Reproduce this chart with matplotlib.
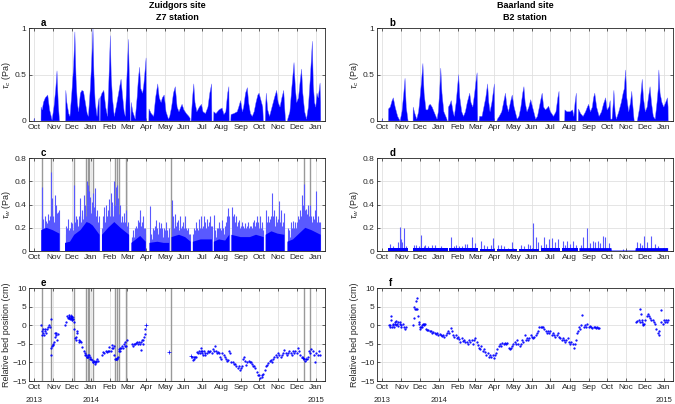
import numpy as np
import matplotlib
matplotlib.use('Agg')
import matplotlib.pyplot as plt

plt.rcParams['font.family'] = ['Liberation Sans', 'DejaVu Sans']
plt.rcParams['mathtext.fontset'] = 'custom'
plt.rcParams['mathtext.it'] = 'Liberation Sans:italic'
plt.rcParams['mathtext.rm'] = 'Liberation Sans'

nan = np.nan
# x in days since 1 Oct 2013
month_lbl = ['Oct', 'Nov', 'Dec', 'Jan', 'Feb', 'Mar', 'Apr', 'May', 'Jun',
             'Jul', 'Aug', 'Sep', 'Oct', 'Noc', 'Dec', 'Jan']
year_lbl = ['2013', '2014', '2015']
year_pos = [0, 3, 15]          # index in month ticks
titles = ['Zuidgors site\nZ7 station', 'Baarland site\nB2 station']

# ---- a: tau_c Zuidgors (envelope, day/value pairs, nan = gap)
tcz = [(-0.5, 0), (0, 0.03), (0.5, 0), (5, nan),
       (11, 0), (11.2, 0.15), (13, 0.12), (15, 0.2), (18, 0.25), (22, 0.28), (25, 0.12), (29, 0.01),
       (32, 0.15), (35, 0.35), (37, 0.54), (39, 0.2), (41, 0), (42, nan),
       (51, 0), (51.3, 0.33), (53, 0.2), (56, 0.08), (58, 0.05), (61, 0.3), (64, 0.6), (66, 0.96),
       (68, 0.45), (70, 0.2), (72, 0.1), (75, 0.3), (77.5, 0.33), (80, 0.32), (83, 0.2), (86, 0.08),
       (88, 0.05), (91, 0.35), (93, 0.6), (95.4, 1.0), (97, 0.5), (99, 0.2), (102, 0.05), (104, 0.2),
       (105.5, 0.25), (106, 0), (106.5, nan),
       (107, 0), (107.5, 0.25), (110, 0.3), (113, 0.33), (116, 0.15), (119, 0.05), (121, 0.4),
       (123.6, 0.92), (125, 0.5), (127, 0.25), (130, 0.05), (133, 0.15), (137, 0.3), (139, 0.38),
       (141, 0.45), (143, 0.3), (146, 0.1), (148, 0.05), (150, 0.4), (153, 0.88), (155, 0.3),
       (156, 0), (156.5, nan),
       (157, 0), (157.5, 0.2), (160, 0.1), (164, 0.02), (167, 0.25), (169, 0.45), (171, 0.58),
       (173, 0.35), (176, 0.3), (178, 0.4), (180, 0.55), (181.6, 0.68), (182, 0), (182.5, nan),
       (186, 0), (186.3, 0.13), (190, 0.08), (194, 0.05), (197, 0.25), (200.5, 0.4), (203, 0.25),
       (206, 0.2), (208, 0.25), (211, 0.28), (214, 0.1), (218, 0.02), (220, 0.05), (223, 0.15),
       (226, 0.3), (229, 0.37), (232, 0.15), (235, 0.1), (238, 0.15), (240, 0.18), (243, 0.12),
       (247, 0.08), (251, 0.05), (253, 0.03), (254, nan),
       (254.5, 0), (255, 0.05), (257, 0.25), (259, 0.4), (261, 0.2), (264, 0.1), (268, 0.15),
       (271.5, 0.18), (274, 0.1), (278, 0.08), (282, 0.15), (285, 0.3), (288, 0.4), (288.5, 0), (289, nan),
       (291, 0), (291.5, 0.1), (295, 0.08), (300, 0.12), (305, 0.14), (308, 0.07), (311, 0.1),
       (314, 0.3), (316, 0.37), (316.5, 0), (317, nan),
       (319, 0), (319.5, 0.07), (324, 0.08), (329.5, 0.1), (332, 0.15), (335, 0.22), (338, 0.1),
       (340, 0.15), (343, 0.3), (346, 0.36), (348, 0.2), (351, 0.08), (354, 0.05), (357, 0.1),
       (360, 0.2), (363, 0.28), (365, 0.3), (367, 0.25), (369, 0.2), (371, 0.15), (372, 0), (372.5, nan),
       (375, 0), (375.5, 0.15), (376.7, 0.3), (379, 0.12), (382, 0.05), (386, 0.15), (390, 0.25),
       (393.5, 0.33), (396, 0.2), (399, 0.15), (402, 0.25), (405, 0.33), (407, 0.1), (408, 0), (408.5, nan),
       (411, 0), (411.5, 0.02), (415, 0.1), (418, 0.35), (420, 0.5), (421.7, 0.63), (424, 0.35),
       (426, 0.2), (429, 0.25), (432, 0.45), (434, 0.56), (436, 0.3), (439, 0.1), (442, 0.02),
       (445, 0.15), (448, 0.45), (451.5, 0.86), (453, 0.4), (455, 0.2), (457, 0.15), (459, 0.3),
       (461, 0.25), (464, 0.41), (465, 0.2), (465.2, 0)]

# ---- b: tau_c Baarland
tcb = [(-0.5, 0), (0, 0.02), (0.5, 0), (5, nan),
       (10, 0), (10.2, 0.13), (13, 0.15), (16, 0.22), (18, 0.25), (21, 0.15), (25, 0.05), (29, 0.0),
       (32, 0.1), (35, 0.3), (37, 0.46), (39, 0.15), (42, 0), (42.5, nan),
       (50, 0), (50.2, 0.15), (53, 0.08), (56, 0.02), (59, 0.1), (62, 0.3), (64, 0.45), (66, 0.62),
       (68, 0.3), (71, 0.12), (74, 0.12), (76, 0.17), (78, 0.18), (81, 0.15), (84, 0.1), (89, 0.02),
       (91, 0.1), (93, 0.3), (95, 0.57), (97, 0.3), (100, 0.1), (105, 0.02), (105.5, 0), (106, nan),
       (107, 0), (107.5, 0.15), (110, 0.18), (112, 0.22), (115, 0.1), (117, 0.05), (120, 0.2),
       (122, 0.35), (124, 0.5), (126, 0.25), (129, 0.1), (132, 0.05), (135, 0.1), (138, 0.2),
       (140, 0.25), (142, 0.3), (144, 0.2), (147, 0.15), (150, 0.3), (152, 0.42), (154, 0.52),
       (155, 0), (155.5, nan),
       (157, 0), (158, 0.05), (162, 0.05), (165, 0.15), (168, 0.25), (171, 0.4), (173, 0.2),
       (175, 0.1), (178, 0.2), (180, 0.3), (182, 0.4), (182.5, 0), (183, nan),
       (186, 0), (187, 0.02), (190, 0.05), (194, 0.1), (197, 0.2), (200, 0.3), (202, 0.18),
       (205, 0.1), (208, 0.2), (211, 0.28), (214, 0.15), (219, 0.02), (222, 0.05), (225, 0.15),
       (228, 0.3), (230, 0.37), (232, 0.2), (235, 0.1), (238, 0.15), (241, 0.23), (244, 0.15),
       (249, 0.02), (252, 0.05), (255, 0.15), (258, 0.25), (259.6, 0.3), (262, 0.15), (265, 0.12),
       (268, 0.14), (270, 0.16), (273, 0.1), (278, 0.05), (282, 0.1), (285, 0.25), (287, 0.32),
       (287.5, 0), (288, nan),
       (296, 0), (296.5, 0.12), (300, 0.1), (305, 0.1), (309, 0.12), (311, 0.05), (313, 0.2),
       (315, 0.3), (315.5, 0), (316, nan),
       (318, 0), (318.5, 0.13), (322, 0.08), (326, 0.05), (330, 0.1), (333, 0.15), (335, 0.18),
       (338, 0.1), (341, 0.15), (343, 0.25), (345, 0.3), (348, 0.15), (352, 0.05), (356, 0.1),
       (359, 0.18), (362.6, 0.25), (365, 0.12), (368, 0.15), (370, 0.22), (371, 0.02), (373, 0.02),
       (375, 0.2), (376, 0.33), (378, 0.1), (380, 0.02), (384, 0.1), (388, 0.2), (391, 0.3),
       (393, 0.35), (395, 0.55), (397, 0.25), (400, 0.1), (403, 0.2), (405, 0.32), (407, 0.15),
       (409, 0), (409.5, nan),
       (414, 0), (414.5, 0.02), (418, 0.15), (420, 0.3), (422, 0.45), (424, 0.25), (427, 0.1),
       (430, 0.15), (432, 0.25), (434.7, 0.37), (437, 0.2), (440, 0.05), (443, 0.02), (446, 0.2),
       (448, 0.35), (449, 0.55), (451, 0.3), (454, 0.2), (457, 0.15), (460, 0.2), (463, 0.25),
       (464, 0.15), (464.2, 0)]

# ---- c: tau_w Zuidgors, dense base level and single spikes
twz_base = [(11.4, 0.18), (20, 0.2), (30, 0.18), (41, 0.15), (41.5, nan),
            (50, 0.07), (58, 0.08), (65, 0.14), (75, 0.18), (85, 0.25), (90, 0.24), (95, 0.22), (106, 0.14), (106.5, nan),
            (110, 0.14), (120, 0.2), (130, 0.25), (140, 0.2), (154, 0.14), (154.5, nan),
            (157.7, 0.07), (165, 0.1), (172, 0.13), (181, 0.08), (181.5, nan),
            (187, 0.07), (200, 0.08), (210, 0.07), (219, 0.07), (219.5, nan),
            (222.8, 0.12), (235, 0.14), (245, 0.12), (254, 0.08), (254.7, nan),
            (257.5, 0.08), (270, 0.1), (280, 0.1), (288.5, 0.1), (289, nan),
            (291.6, 0.08), (300, 0.1), (310, 0.09), (316.5, 0.14), (317, nan),
            (320, 0.14), (335, 0.12), (350, 0.12), (360, 0.14), (372.5, 0.12), (373, nan),
            (375.6, 0.14), (385, 0.17), (395, 0.15), (406, 0.14), (406.5, nan),
            (411, 0.08), (420, 0.1), (430, 0.15), (440, 0.2), (450, 0.18), (465, 0.14)]
twz_spk = [(12, 0.55), (13, 0.3), (14, 0.22), (15, 0.28), (16, 0.2), (17, 0.3), (18, 0.25), (19, 0.26),
           (20, 0.2), (21, 0.24), (22, 0.32), (23, 0.22), (24, 0.27), (25, 0.2), (26, 0.3), (27.6, 0.68),
           (28.5, 0.35), (29, 0.46), (30, 0.28), (31, 0.3), (32, 0.25), (33, 0.48), (34, 0.3), (35, 0.4),
           (36, 0.26), (36.5, 0.33), (37.5, 0.3), (38, 0.34), (39, 0.25), (40, 0.35), (41, 0.2),
           (51, 0.22), (52, 0.15), (53, 0.2), (54, 0.18), (55, 0.28), (56, 0.14), (57, 0.18), (58, 0.2),
           (59, 0.15), (60, 0.25), (61, 0.2), (62, 0.24), (63, 0.18), (64, 0.3), (65, 0.57), (66, 0.25),
           (67, 0.22), (68, 0.3), (69, 0.2), (70, 0.28), (71, 0.22), (72, 0.3), (73, 0.25), (74, 0.46),
           (75, 0.3), (76, 0.25), (77, 0.35), (78, 0.3), (79, 0.28), (80, 0.48), (81, 0.32), (82, 0.4),
           (83, 0.35), (84, 0.3), (85, 0.6), (86, 0.4), (87, 0.57), (88, 0.38), (89, 0.52), (90, 0.35),
           (91, 0.47), (92, 0.33), (93, 0.42), (94, 0.35), (95, 0.5), (96, 0.3), (97, 0.38), (98, 0.33),
           (99, 0.54), (100, 0.3), (101, 0.28), (102, 0.35), (103, 0.25), (104, 0.22), (105, 0.3),
           (110.5, 0.2), (111, 0.25), (112, 0.3), (113, 0.22), (114, 0.38), (115, 0.25), (116, 0.4),
           (117, 0.28), (118, 0.3), (119, 0.35), (120, 0.3), (121, 0.35), (122, 0.45), (123, 0.3),
           (124, 0.38), (125, 0.5), (126, 0.35), (127, 0.42), (128, 0.3), (129, 0.38), (130, 0.6),
           (131, 0.4), (132, 0.35), (133, 0.55), (134, 0.57), (135, 0.35), (136, 0.46), (137, 0.3),
           (138, 0.32), (139, 0.4), (140, 0.28), (141, 0.25), (142, 0.3), (143, 0.22), (144, 0.25),
           (145, 0.2), (146, 0.33), (147, 0.22), (148, 0.25), (149, 0.35), (150, 0.2), (151, 0.22),
           (152, 0.25), (153, 0.18),
           (158, 0.12), (159, 0.1), (160, 0.14), (161, 0.18), (162, 0.12), (163, 0.15), (164, 0.2),
           (165, 0.22), (166, 0.18), (167, 0.2), (168, 0.27), (169, 0.2), (170, 0.25), (171, 0.3),
           (172, 0.35), (173, 0.22), (174, 0.2), (175, 0.25), (176, 0.18), (177, 0.3), (178, 0.2),
           (179, 0.15), (180, 0.2),
           (188, 0.39), (189, 0.12), (190, 0.15), (191, 0.1), (192, 0.16), (193, 0.2), (194, 0.12),
           (195, 0.18), (196, 0.22), (197, 0.15), (198, 0.27), (199, 0.18), (200, 0.2), (201, 0.15),
           (202, 0.25), (203, 0.16), (204, 0.2), (205, 0.15), (206, 0.24), (207, 0.16), (208, 0.2),
           (209, 0.12), (210, 0.2), (211, 0.15), (212, 0.18), (213, 0.14), (214, 0.25), (215, 0.15),
           (216, 0.18), (217, 0.12), (218, 0.2),
           (223, 0.44), (224, 0.22), (225, 0.25), (226, 0.3), (227, 0.2), (228, 0.25), (229, 0.32),
           (230, 0.22), (231, 0.2), (232, 0.25), (233, 0.27), (234, 0.2), (235, 0.18), (236, 0.22),
           (237, 0.3), (238, 0.2), (239, 0.18), (240, 0.22), (241, 0.25), (242, 0.18), (243, 0.2),
           (244, 0.15), (245, 0.3), (246, 0.2), (247, 0.15), (248, 0.18), (249, 0.12), (250, 0.2),
           (251, 0.15), (252, 0.12), (253, 0.15),
           (258, 0.15), (259, 0.2), (260, 0.12), (261, 0.18), (262, 0.15), (263, 0.25), (264, 0.15),
           (265, 0.2), (266, 0.18), (267, 0.28), (268, 0.18), (269, 0.2), (270, 0.22), (271, 0.3),
           (272, 0.2), (273, 0.18), (274, 0.22), (275, 0.3), (276, 0.2), (277, 0.25), (278, 0.18),
           (279, 0.2), (280, 0.28), (281, 0.15), (282, 0.22), (283, 0.2), (284, 0.25), (285, 0.3),
           (286, 0.18), (287, 0.22), (288, 0.22),
           (292, 0.31), (293, 0.15), (294, 0.18), (295, 0.12), (296, 0.2), (297, 0.15), (298, 0.18),
           (299, 0.2), (300, 0.25), (301, 0.15), (302, 0.2), (303, 0.18), (304, 0.22), (305, 0.27),
           (306, 0.18), (307, 0.2), (308, 0.15), (309, 0.22), (310, 0.18), (311, 0.25), (312, 0.2),
           (313, 0.3), (314, 0.25), (315, 0.37), (316, 0.3),
           (321, 0.38), (322, 0.25), (323, 0.3), (324, 0.32), (325, 0.22), (326, 0.25), (327, 0.2),
           (328, 0.3), (329, 0.22), (330, 0.25), (331, 0.2), (332, 0.22), (333, 0.27), (334, 0.2),
           (335, 0.22), (336, 0.18), (337, 0.25), (338, 0.2), (339, 0.22), (340, 0.18), (341, 0.2),
           (342, 0.24), (343, 0.18), (344, 0.2), (345, 0.22), (346, 0.18), (347, 0.25), (348, 0.2),
           (349, 0.18), (350, 0.2), (351, 0.22), (352, 0.22), (353, 0.18), (354, 0.2), (355, 0.25),
           (356, 0.2), (357, 0.27), (358, 0.22), (359, 0.2), (360, 0.25), (361, 0.22), (362, 0.3),
           (363, 0.22), (364, 0.25), (365, 0.2), (366, 0.3), (367, 0.22), (368, 0.2), (369, 0.25),
           (370, 0.22), (371, 0.18),
           (376, 0.25), (377, 0.35), (378, 0.25), (379, 0.22), (380, 0.3), (381, 0.25), (382, 0.2),
           (383, 0.28), (384, 0.3), (385, 0.25), (386, 0.5), (387, 0.3), (388, 0.28), (389, 0.35),
           (390, 0.25), (391, 0.22), (392, 0.28), (393, 0.3), (394, 0.25), (395, 0.28), (396, 0.22),
           (397, 0.3), (398, 0.43), (399, 0.25), (400, 0.28), (401, 0.35), (402, 0.22), (403, 0.25),
           (404, 0.2), (405, 0.33),
           (412, 0.2), (413, 0.15), (414, 0.18), (415, 0.12), (416, 0.25), (417, 0.15), (418, 0.2),
           (419, 0.18), (420, 0.26), (421, 0.18), (422, 0.2), (423, 0.22), (424, 0.25), (425, 0.2),
           (426, 0.22), (427, 0.25), (428, 0.3), (429, 0.25), (430, 0.28), (431, 0.3), (432, 0.35),
           (433, 0.3), (434, 0.33), (435, 0.48), (436, 0.35), (437, 0.4), (438, 0.58), (439, 0.3),
           (440, 0.35), (441, 0.36), (442, 0.3), (443, 0.32), (444, 0.35), (445, 0.4), (446, 0.3),
           (447, 0.35), (448, 0.4), (449, 0.3), (450, 0.28), (451, 0.25), (452, 0.3), (453, 0.22),
           (454, 0.28), (455, 0.35), (456, 0.25), (457, 0.22), (458, 0.52), (459, 0.25), (460, 0.22),
           (461, 0.3), (462, 0.2), (463, 0.25), (464, 0.25)]

# ---- d: tau_w Baarland
twb_base = [(10, 0.025), (42, 0.025), (42.5, nan), (50, 0.025), (106, 0.025), (106.5, nan),
            (108, 0.025), (155, 0.025), (155.5, nan), (158, 0.02), (183, 0.02), (183.5, nan),
            (186, 0.015), (219, 0.015), (219.5, nan), (222, 0.02), (254, 0.02), (254.5, nan),
            (257, 0.025), (288, 0.025), (288.5, nan), (291, 0.025), (317, 0.025), (317.5, nan),
            (320, 0.025), (372, 0.025), (372.5, 0.004), (411, 0.004), (411.5, 0.025), (464, 0.025)]
twb_spk = [(13, 0.06), (18, 0.04), (25, 0.08), (28, 0.21), (30, 0.1), (32, 0.08), (36, 0.2), (39, 0.04),
           (51, 0.05), (55, 0.05), (59, 0.04), (63, 0.14), (67, 0.04), (70, 0.05), (75, 0.04), (80, 0.05),
           (86, 0.05), (95, 0.04), (100, 0.03), (112, 0.12), (116, 0.04), (120, 0.05), (125, 0.04),
           (130, 0.04), (134, 0.06), (138, 0.06), (145, 0.12), (150, 0.07), (160, 0.09), (165, 0.05),
           (170, 0.04), (176, 0.05), (180, 0.11), (188, 0.05), (192, 0.05), (198, 0.04), (204, 0.03),
           (210, 0.075), (225, 0.05), (230, 0.04), (236, 0.06), (240, 0.05), (245, 0.24), (250, 0.12),
           (253, 0.08), (258, 0.05), (262, 0.12), (266, 0.06), (270, 0.1), (276, 0.11), (280, 0.08),
           (286, 0.1), (293, 0.09), (297, 0.05), (300, 0.09), (305, 0.06), (310, 0.09), (314, 0.05),
           (322, 0.05), (326, 0.12), (332, 0.2), (338, 0.07), (342, 0.09), (345, 0.08), (350, 0.09),
           (354, 0.07), (358, 0.13), (362, 0.12), (368, 0.07), (390, 0.02),
           (413, 0.08), (418, 0.07), (422, 0.05), (425, 0.13), (430, 0.08), (436, 0.13), (442, 0.06),
           (448, 0.04), (455, 0.03), (460, 0.03)]

# ---- e: bed level Zuidgors (cm)
bz_day = [11, 12, 13, 14, 15, 16, 17, 18, 19, 20, 22, 24, 26, 27, 27.5, 28, 29, 30, 31, 32, 33, 34, 35,
          36, 37, 38,
          50, 52, 54, 55, 56, 57, 58, 59, 60, 61, 62, 63, 64, 65, 66, 67, 68, 69, 70, 72, 73, 74, 76, 78,
          80, 82, 83, 84, 85, 86, 87, 88, 89, 90, 91, 92, 93, 95, 96, 97, 98, 99, 100, 101, 102, 103,
          110, 112, 114, 116, 118, 120, 121, 122, 124, 126, 127, 128, 129, 130, 131, 132, 133, 134,
          135, 136, 137, 138, 139, 140, 141, 142, 144, 146, 147, 148, 149, 150,
          158, 160, 162, 164, 165, 167, 168, 170, 172, 173, 174, 175, 176, 177, 178, 179, 180,
          256, 258, 259, 260, 261, 263, 264, 266, 268, 269, 270, 271, 272, 273, 274, 276, 277, 278,
          280, 282, 284, 286, 288, 290, 292, 294, 295, 297, 298, 300, 302, 303, 305, 308, 310, 312,
          313, 314, 316, 318, 320, 322, 324, 326, 328, 330, 332, 334, 336, 338, 339, 340, 342, 344,
          346, 348, 350, 352, 353, 355, 357, 359, 361, 363, 365, 367, 369, 370, 372, 374, 376, 378,
          380, 382, 384, 386, 388, 390, 392, 394, 396, 398, 400, 402, 404, 406, 408, 410, 412, 414,
          416, 418, 420, 422, 424, 426, 428, 430, 432, 434, 436, 438, 440, 442, 444, 446, 448, 450,
          452, 454, 456, 458, 460, 462, 464]
bz_val = [0, -1.5, -2.5, -2, -1, -2.5, -1, -1.5, -2, -1, -0.5, 0, -0.5, 1.7, -8, -6, -5.5, -5.2, -5,
          -4.5, -3, -2, -2.5, -2, -4, -2.3,
          0, 1, 2.5, 2, 2.8, 2, 1.8, 2.5, 2, 1.5, 2.2, 1.7, 1, -1, -3.3, -4, -3, -1.5, -2, -4, -4.5,
          -4.3, -4.5, -5.8, -7, -7.5, -8, -8, -8.5, -8.5, -8, -8.5, -8, -9, -8.5, -9, -9.4, -9.8, -10,
          -9.5, -10.5, -10, -9.8, -9.5, -9, -9.5,
          -8, -7.3, -7.5, -7, -7.2, -7, -6.8, -5.8, -7, -6, -5.4, -6, -5.5, -8, -9, -9, -9, -8.8, -9,
          -8.5, -7, -6.5, -6, -7, -6, -5.5, -6, -5, -5.5, -4.5, -5.5, -4,
          -5, -5.5, -4.9, -5, -4.8, -4.5, -5, -4.5, -5, -4.5, -6.7, -4, -5, -4, -3, -2.2, -1,
          -8.5, -9.4, -8.5, -9, -8.5, -8.5, -7.3, -7.5, -7, -7.5, -6.1, -7, -6.8, -7.5, -7.9, -7,
          -7.5, -8, -7.5, -7, -7.2, -7, -7.5, -6.5, -7, -5.6, -7, -7.5, -7.2, -7.5, -8.5, -9, -7.5,
          -8, -8.5, -9, -9.5, -9.4, -7, -7.5, -9.8, -9.8, -10.5, -10.5, -11, -11.6, -11, -12, -11.5,
          -11, -9, -8.5, -9.5, -10.7, -10, -9.5, -10, -10, -10.5, -11, -11, -11.5, -12.5, -13.4,
          -13.5, -14.1, -13.5, -14, -13, -12, -11, -10.7, -10.1, -9.5, -9.4, -10, -9, -8.5, -8,
          -8.5, -7.5, -8, -8.5, -8, -7.5, -6.7, -7.5, -8, -7.5, -7, -7.5, -8, -7, -7.5, -7, -7.5,
          -6.1, -7, -8, -8.5, -8.75, -9, -9.5, -9, -8.5, -7, -7.5, -6.25, -7, -8, -9.8, -7.5, -8,
          -7, -7.9]
bz_x_day = [57, 59, 60, 61, 62, 181, 219, 254, 437, 441]
bz_x_val = [2.3, 2.0, 2.5, 1.8, 2.2, 0.1, -7.2, -8.2, -8.8, -9.0]

# ---- f: bed level Baarland (cm)
bb_day = [11, 12, 13, 14, 15, 16, 17, 18, 19, 20, 21, 22, 23, 24, 25, 26, 28, 29, 30, 31, 33, 35, 37, 38,
          50, 51, 52, 53, 54, 55, 56, 57, 58, 59, 60, 61, 62, 63, 64, 65, 66, 67, 68, 69, 71, 73, 75,
          77, 79, 81, 83, 85, 87, 89, 91, 93, 95, 97, 99, 101, 103, 105, 107, 109, 111, 113, 115, 117,
          119, 121, 123, 125, 127, 129, 131, 133, 135, 137, 139, 141, 143, 145, 147, 149, 151, 153,
          155, 157, 159, 161, 163, 165, 167, 169, 171, 173, 175, 177, 179, 181, 183, 185, 187, 189,
          191, 193, 195, 197, 199, 201, 203, 205, 207, 209, 211, 213, 215, 217, 219, 221, 223, 225,
          227, 229, 231, 233, 235, 237, 239, 241, 243, 245, 247, 249, 251, 253, 255, 257, 259, 261,
          263, 265, 267, 269, 271, 273, 275, 277, 279, 281, 283, 285, 287, 289, 291, 293, 295, 297,
          299, 301, 303, 305, 307, 309, 311, 313, 315, 316, 318, 319, 321, 323, 325, 327, 329, 331,
          333, 335, 337, 339, 341, 343, 345, 347, 349, 351, 352,
          412, 414, 416, 418, 419, 420, 421, 422, 423, 424, 425, 427, 429, 431, 433, 435, 437, 439,
          441, 443, 445, 447, 449, 450, 452, 453, 455, 457, 459, 461, 463, 464]
bb_val = [0, -0.5, 0, 2.5, 1.5, -0.5, 0, 0.5, -0.5, 0.5, 1, 0, 1.3, 0.5, 1, -0.2, 1, 0.5, -0.5, 0,
          0.5, -0.5, -1, -0.5,
          0, 2, 5, 4.5, 6.5, 4.5, 7.3, 4.5, 2.5, 1, 0.5, -0.5, -1, -0.5, 0, -0.5, 0.5, 0.5, 0, 0.5,
          -1, -1.3, -1.2, -1.5, -1.5, -2, -1.8, -2, -2.2, -2, -2.5, -2.3, -2.5, -2.8, -2.5, -3, -2.5,
          -2, -1.5, -2, -0.8, -1.5, -2.5, -3, -2.5, -3.5, -3, -3.7, -4.5, -3.5, -4.3, -4, -4.5, -4.5,
          -5, -4, -4.5, -4, -5, -4, -3.5, -4.5, -5.4, -6, -6.3, -5.5, -7, -6.5, -7.3, -8, -7.5, -8.5,
          -8, -8.5, -8, -8.7, -8, -7.5, -6.5, -5.6, -5, -5.5, -4.7, -5, -4.8, -5, -4.8, -6, -6.4, -6,
          -5.5, -5, -4.5, -5, -4, -5, -5.5, -5, -4, -4.5, -2.7, -4, -3.5, -4, -3.5, -2.5, -3, -3.5,
          -3, -2.5, -2, -1.5, -0.4, -0.5, -0.5, -0.5, -1, -1.5, -2, -1.5, -2, -1.5, -2.5, -2, -2.5,
          -3, -2.5, -2, -3, -3.5, -4, -3.5, -4, -4.5, -4, -3.5, -4.5, -5, -4.5, -5, -6.1, -5, -4, -2,
          -1.5, -0.5, -1, 0, 2.8, -0.5, 0, -0.5, 0.3, -0.5, -0.3, -0.5, -0.8, -0.5, -0.5, -0.8, -0.5,
          -0.8, -0.7,
          1, 1.2, 1.5, 1, 4.3, 3, 1.5, 1, 0.5, 0, 0.5, 1.5, 2.5, 3.1, 2.5, 2, 1.5, 1.5, 1, 0.5, -1,
          -2, -2.5, -1.5, 4.2, 1, 0.5, 1.5, 1, 1.5, 1, 1.5]

# grey lines: instrument/data flags at Zuidgors
flag_day = [12.5, 27.1, 65, 84, 86.7, 89.4, 94.9, 130.6, 133.9, 137.7, 149.6, 221.7, 438, 448.2]

months = np.arange('2013-10', '2015-02', dtype='datetime64[M]').astype('datetime64[D]')
mtick = (months - np.datetime64('2013-10-01')).astype(int)

fig = plt.figure(figsize=(6.75, 4.04), dpi=100)
lefts = [0.0434, 0.559]
bottoms = [0.7005, 0.3787, 0.0569]
W, H = 0.4381, 0.2295
dgrey = '0.15'
spk_col = (0.35, 0.35, 1.0)


def style(ax, ylim, yticks, ylab, letter, bottom=False):
    ax.set_xlim(-8, 472)
    ax.set_ylim(ylim)
    ax.set_yticks(yticks)
    ax.set_xticks(mtick)
    ax.set_xticklabels(month_lbl)
    ax.grid(True, color='0.88', lw=0.6)
    ax.set_axisbelow(True)
    ax.tick_params(direction='in', length=2.5, width=0.5, labelsize=6, colors=dgrey,
                   top=True, right=True, pad=2)
    for s in ax.spines.values():
        s.set_color(dgrey)
        s.set_linewidth(0.6)
    ax.set_ylabel(ylab, fontsize=6.5, color=dgrey, labelpad=1)
    ax.text(0.04, 1.0, letter, transform=ax.transAxes, fontsize=7, fontweight='bold',
            ha='left', va='bottom')
    if bottom:
        for k, lab in zip(year_pos, year_lbl):
            ax.annotate(lab, xy=(mtick[k], 0), xycoords=('data', 'axes fraction'),
                        xytext=(0, -14), textcoords='offset points', ha='center', va='center',
                        fontsize=5.5, color=dgrey)


def pairs(p):
    a = np.array(p, dtype=float)
    return a[:, 0], a[:, 1]


# a, b
for j, env in enumerate([tcz, tcb]):
    ax = fig.add_axes([lefts[j], bottoms[0], W, H])
    x, y = pairs(env)
    ax.fill_between(x, 0, y, color='blue', lw=0.3, edgecolor=(0.4, 0.4, 1))
    style(ax, (0, 1), [0, 0.5, 1], r'$\tau_{c}$ (Pa)', 'ab'[j])
    ax.set_yticklabels(['0', '0.5', '1'])
    t1, t2 = titles[j].split('\n')
    xc = lefts[j] + W / 2
    fig.text(xc, 1 - 6 / 404, t1, ha='center', va='center', fontsize=6.5, fontweight='bold')
    fig.text(xc, 1 - 17 / 404, t2, ha='center', va='center', fontsize=6.5, fontweight='bold')

# c, d
for j, (base, spk) in enumerate([(twz_base, twz_spk), (twb_base, twb_spk)]):
    ax = fig.add_axes([lefts[j], bottoms[1], W, H])
    if j == 0:
        for d in flag_day:
            ax.axvline(d, color='0.6', lw=1.0, zorder=1)
    sx, sy = pairs(spk)
    ax.vlines(sx, 0, sy, color=spk_col, lw=0.8, zorder=2)
    x, y = pairs(base)
    ax.fill_between(x, 0, y, color='blue', lw=0, zorder=3)
    style(ax, (0, 0.8), [0, 0.2, 0.4, 0.6, 0.8], r'$\tau_{w}$ (Pa)', 'cd'[j])
    ax.set_yticklabels(['0', '0.2', '0.4', '0.6', '0.8'])

# e, f
for j, (xd, yv) in enumerate([(bz_day, bz_val), (bb_day, bb_val)]):
    ax = fig.add_axes([lefts[j], bottoms[2], W, H])
    if j == 0:
        for d in flag_day:
            ax.axvline(d, color='0.6', lw=1.0, zorder=1)
        ax.plot(bz_x_day, bz_x_val, '+', color='blue', ms=3.5, mew=0.5, zorder=3)
    ax.plot(xd, yv, '.', color='blue', ms=1.2, zorder=3)
    style(ax, (-15, 10), [-15, -10, -5, 0, 5, 10], 'Relative bed position (cm)', 'ef'[j], bottom=True)

plt.savefig('out.png', dpi=100)
